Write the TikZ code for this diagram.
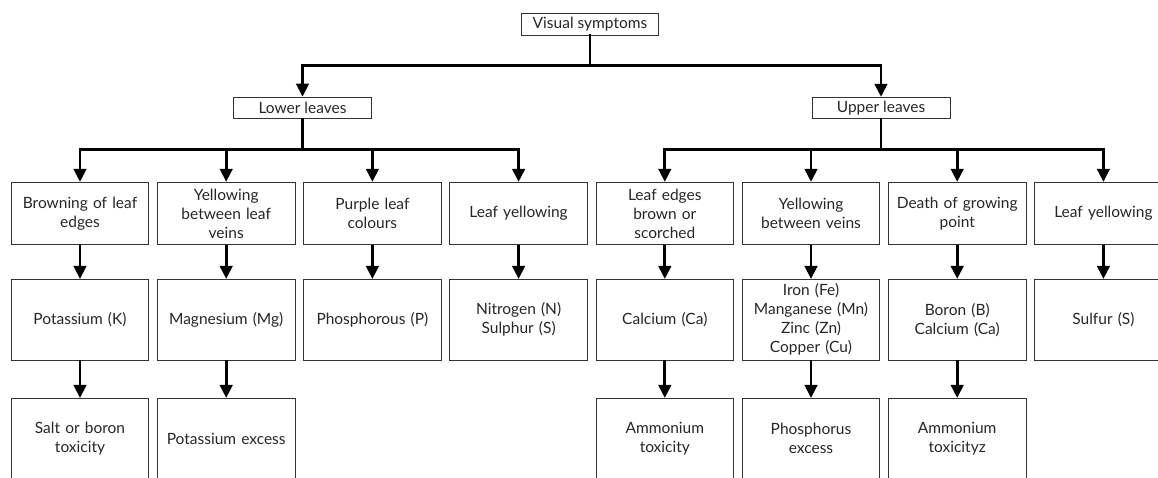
\documentclass[tikz,border=0pt]{standalone}
\usepackage{fontspec}
\setmainfont{Lato}
\usetikzlibrary{arrows.meta}
\begin{document}
\begin{tikzpicture}[x=1pt,y=-1pt,
  box/.style={draw=black!80, line width=0.8pt, inner sep=0pt, align=center,
    font=\fontsize{15.5}{19}\selectfont, text=black!85},
  topbox/.style={box, minimum width=137pt, minimum height=21.5pt},
  rowa/.style={box, minimum width=137.5pt, minimum height=62.5pt, text width=135pt},
  rowb/.style={box, minimum width=137.5pt, minimum height=80.7pt, text width=135pt},
  conn/.style={line width=2.8pt, line cap=rect},
  arr/.style={conn, line cap=butt, -{Triangle[length=13pt,width=12.5pt]}}]
\useasboundingbox (0,0) rectangle (1158,477);
\clip (0,0) rectangle (1158,477);
% top levels
\node[topbox] (vs) at (590,24.5) {Visual symptoms};
\node[topbox, minimum width=137.5pt] (ll) at (302.5,107.8) {Lower leaves};
\node[topbox, minimum width=138pt] (ul) at (881,108) {Upper leaves};
% row 1
\node[rowa] (a1) at (80,213.5) {Browning of leaf\\edges};
\node[rowa] (a2) at (226.2,213.5) {Yellowing\\between leaf\\veins};
\node[rowa] (a3) at (372.4,213.5) {Purple leaf\\colours};
\node[rowa] (a4) at (518.6,213.5) {Leaf yellowing};
\node[rowa] (a5) at (664.8,213.5) {Leaf edges\\brown or\\scorched};
\node[rowa] (a6) at (811,213.5) {Yellowing\\between veins};
\node[rowa] (a7) at (957.2,213.5) {Death of growing\\point};
\node[rowa] (a8) at (1103.4,213.5) {Leaf yellowing};
% row 2
\node[rowb] (b1) at (80,319.7) {Potassium (K)};
\node[rowb] (b2) at (226.2,319.7) {Magnesium (Mg)};
\node[rowb] (b3) at (372.4,319.7) {Phosphorous (P)};
\node[rowb] (b4) at (518.6,319.7) {Nitrogen (N)\\Sulphur (S)};
\node[rowb] (b5) at (664.8,319.7) {Calcium (Ca)};
\node[rowb] (b6) at (811,319.7) {Iron (Fe)\\Manganese (Mn)\\Zinc (Zn)\\Copper (Cu)};
\node[rowb] (b7) at (957.2,319.7) {Boron (B)\\Calcium (Ca)};
\node[rowb] (b8) at (1103.4,319.7) {Sulfur (S)};
% row 3
\node[rowb] (c1) at (80,438.7) {Salt or boron\\toxicity};
\node[rowb] (c2) at (226.2,438.7) {Potassium excess};
\node[rowb] (c5) at (664.8,438.7) {Ammonium\\toxicity};
\node[rowb] (c6) at (811,438.7) {Phosphorus\\excess};
\node[rowb] (c7) at (957.2,438.7) {Ammonium\\toxicityz};
% junctions
\coordinate (j0) at (590,65.5);
\coordinate (jl) at (302.5,149.5);
\coordinate (jr) at (881,149.5);
% connectors
\draw[conn] (vs.south) -- (j0);
\draw[arr] (j0) -| (ll.north);
\draw[arr] (j0) -| (ul.north);
\draw[conn] (ll.south) -- (jl);
\draw[conn] (ul.south) -- (jr);
\foreach \n in {a1,a2,a3,a4} \draw[arr] (jl) -| (\n.north);
\foreach \n in {a5,a6,a7,a8} \draw[arr] (jr) -| (\n.north);
\foreach \n in {1,...,8} \draw[arr] (a\n.south) -- (b\n.north);
\foreach \n in {1,2,5,6,7} \draw[arr] (b\n.south) -- (c\n.north);
\end{tikzpicture}
\end{document}
